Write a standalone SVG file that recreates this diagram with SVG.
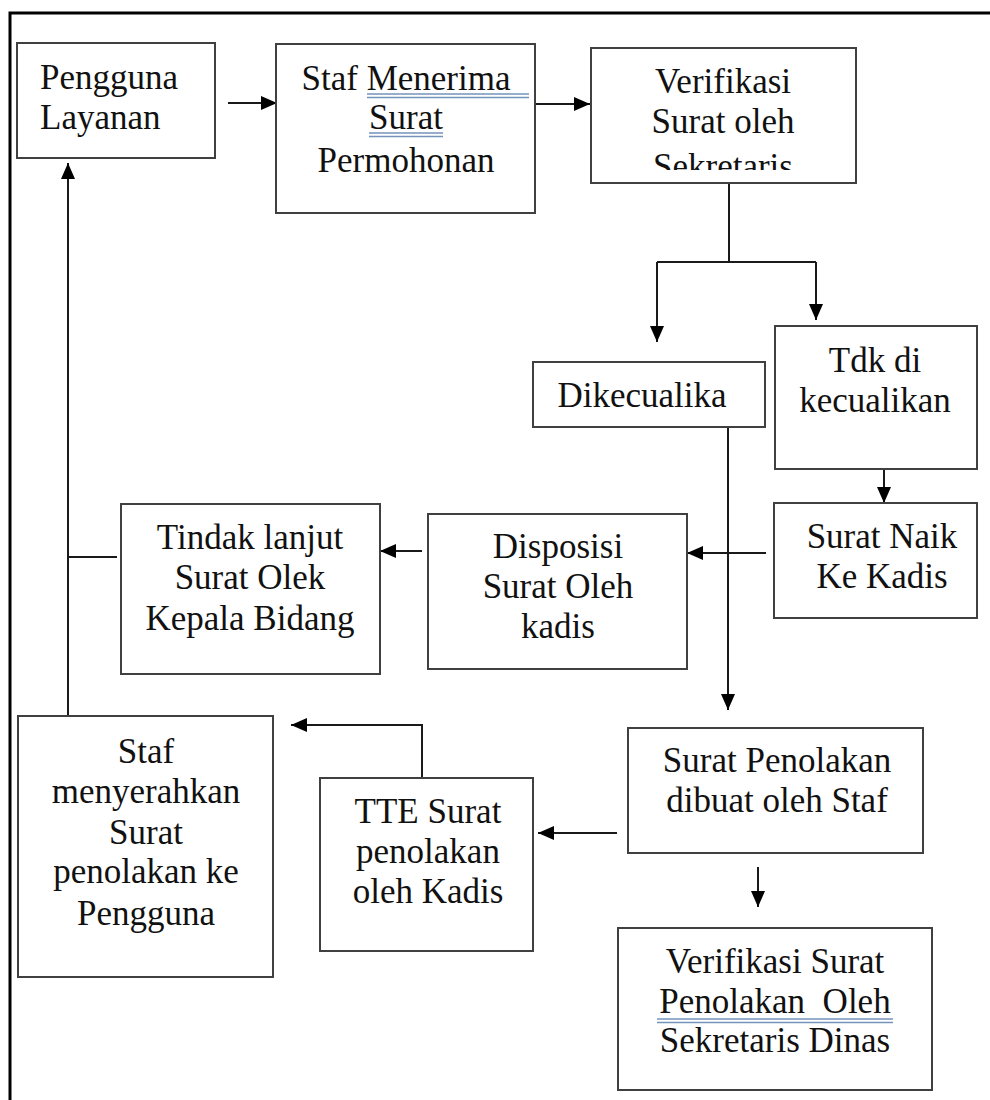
<svg xmlns="http://www.w3.org/2000/svg" width="990" height="1100" viewBox="0 0 990 1100">
<style>
.box{fill:#fff;stroke:#404040;stroke-width:2}
.t{font-family:"Liberation Serif","Times New Roman",serif;font-size:35px;fill:#111;text-anchor:middle}
.ln{fill:none;stroke:#1a1a1a;stroke-width:2}
.ul{stroke:#7393bb;stroke-width:1.3}
.frame{fill:none;stroke:#000;stroke-width:3}
</style>
<defs>
<marker id="ah" viewBox="0 0 16 14" refX="16" refY="7" markerWidth="16" markerHeight="14" markerUnits="userSpaceOnUse" orient="auto">
<path d="M0,0 L16,7 L0,14 z" fill="#000"/>
</marker>
<clipPath id="clipC"><rect x="590" y="48" width="267" height="122"/></clipPath>
</defs>
<rect width="990" height="1100" fill="#fff"/>
<path class="frame" d="M10,1100 V13 H990"/>

<g id="connectors">
<path class="ln" d="M228,103 H277" marker-end="url(#ah)"/>
<path class="ln" d="M535,104 H590" marker-end="url(#ah)"/>
<path class="ln" d="M729,183 V262"/>
<path class="ln" d="M657,262 H816"/>
<path class="ln" d="M657,262 V342" marker-end="url(#ah)"/>
<path class="ln" d="M816,262 V320" marker-end="url(#ah)"/>
<path class="ln" d="M884,469 V503" marker-end="url(#ah)"/>
<path class="ln" d="M728,427 V710" marker-end="url(#ah)"/>
<path class="ln" d="M766,553 H687" marker-end="url(#ah)"/>
<path class="ln" d="M422,551 H380" marker-end="url(#ah)"/>
<path class="ln" d="M117,557 H68"/>
<path class="ln" d="M68,716 V163" marker-end="url(#ah)"/>
<path class="ln" d="M422,778 V725 H291" marker-end="url(#ah)"/>
<path class="ln" d="M617,833 H538" marker-end="url(#ah)"/>
<path class="ln" d="M758,867 V907" marker-end="url(#ah)"/>
</g>

<g id="pengguna-layanan">
<rect class="box" x="17" y="43" width="198" height="115"/>
<text class="t" style="text-anchor:start"><tspan x="40" y="89">Pengguna</tspan><tspan x="40" y="129">Layanan</tspan></text>
</g>

<g id="staf-menerima">
<rect class="box" x="276" y="44" width="259" height="169"/>
<text class="t"><tspan x="406" y="90">Staf Menerima</tspan><tspan x="406" y="129">Surat</tspan><tspan x="406" y="172">Permohonan</tspan></text>
<line class="ul" x1="367" y1="94" x2="529" y2="94"/>
<line class="ul" x1="367" y1="97.5" x2="529" y2="97.5"/>
<line class="ul" x1="369" y1="133" x2="443" y2="133"/>
<line class="ul" x1="369" y1="136.5" x2="443" y2="136.5"/>
</g>

<g id="verifikasi-sekretaris">
<rect class="box" x="591" y="48" width="265" height="135"/>
<text class="t" clip-path="url(#clipC)"><tspan x="723" y="93">Verifikasi</tspan><tspan x="723" y="133">Surat oleh</tspan><tspan x="723" y="178">Sekretaris</tspan></text>
</g>

<g id="dikecualika">
<rect class="box" x="533" y="362" width="232" height="65"/>
<text class="t"><tspan x="642" y="407">Dikecualika</tspan></text>
</g>

<g id="tdk-dikecualikan">
<rect class="box" x="775" y="326" width="202" height="143"/>
<text class="t"><tspan x="875" y="372">Tdk di</tspan><tspan x="875" y="412">kecualikan</tspan></text>
</g>

<g id="surat-naik">
<rect class="box" x="774" y="503" width="203" height="115"/>
<text class="t"><tspan x="882" y="548">Surat Naik</tspan><tspan x="882" y="588">Ke Kadis</tspan></text>
</g>

<g id="disposisi">
<rect class="box" x="428" y="514" width="259" height="155"/>
<text class="t"><tspan x="558" y="558">Disposisi</tspan><tspan x="558" y="598">Surat Oleh</tspan><tspan x="558" y="638">kadis</tspan></text>
</g>

<g id="tindak-lanjut">
<rect class="box" x="121" y="504" width="259" height="170"/>
<text class="t"><tspan x="250" y="549">Tindak lanjut</tspan><tspan x="250" y="589">Surat Olek</tspan><tspan x="250" y="630">Kepala Bidang</tspan></text>
</g>

<g id="staf-menyerahkan">
<rect class="box" x="18" y="716" width="255" height="261"/>
<text class="t"><tspan x="146" y="763">Staf</tspan><tspan x="146" y="803">menyerahkan</tspan><tspan x="146" y="844">Surat</tspan><tspan x="146" y="883">penolakan ke</tspan><tspan x="146" y="925">Pengguna</tspan></text>
</g>

<g id="tte-surat">
<rect class="box" x="320" y="778" width="213" height="173"/>
<text class="t"><tspan x="428" y="823">TTE Surat</tspan><tspan x="428" y="863">penolakan</tspan><tspan x="428" y="903">oleh Kadis</tspan></text>
</g>

<g id="surat-penolakan">
<rect class="box" x="628" y="728" width="295" height="125"/>
<text class="t"><tspan x="777" y="772">Surat Penolakan</tspan><tspan x="777" y="812">dibuat oleh Staf</tspan></text>
</g>

<g id="verifikasi-penolakan">
<rect class="box" x="618" y="928" width="314" height="162"/>
<text class="t" xml:space="preserve"><tspan x="775" y="973">Verifikasi Surat</tspan><tspan x="775" y="1013">Penolakan  Oleh</tspan><tspan x="775" y="1052">Sekretaris Dinas</tspan></text>
<line class="ul" x1="657" y1="1019" x2="893" y2="1019"/>
<line class="ul" x1="657" y1="1022.5" x2="893" y2="1022.5"/>
</g>
</svg>
